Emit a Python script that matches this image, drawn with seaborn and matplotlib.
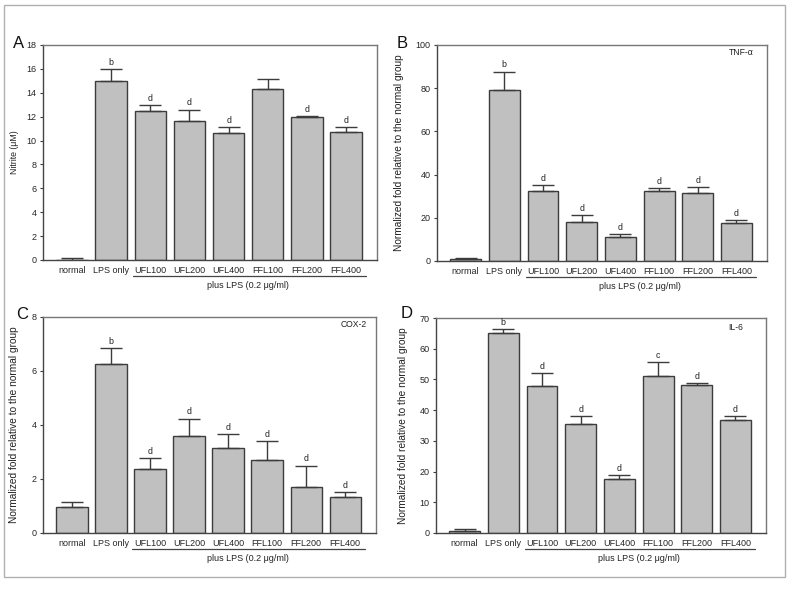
import matplotlib
matplotlib.use("Agg")
import matplotlib.pyplot as plt
import matplotlib.transforms as mtransforms
from matplotlib.patches import Rectangle
import seaborn as sns
import pandas as pd
import numpy as np

categories = ["normal", "LPS only", "UFL100", "UFL200", "UFL400", "FFL100", "FFL200", "FFL400"]

nitrite_mean = [0.03, 14.95, 12.5, 11.6, 10.6, 14.3, 12.0, 10.75]
nitrite_err = [0.15, 1.0, 0.5, 1.0, 0.55, 0.85, 0.05, 0.4]
nitrite_sig = ["", "b", "d", "d", "d", "", "d", "d"]

tnf_mean = [1.0, 79.0, 32.6, 18.0, 11.3, 32.3, 31.3, 17.7]
tnf_err = [0.3, 8.7, 2.5, 3.2, 1.0, 1.5, 2.8, 1.3]
tnf_sig = ["", "b", "d", "d", "d", "d", "d", "d"]

cox_mean = [0.98, 6.26, 2.38, 3.59, 3.13, 2.70, 1.72, 1.32]
cox_err = [0.15, 0.6, 0.4, 0.65, 0.53, 0.72, 0.78, 0.2]
cox_sig = ["", "b", "d", "d", "d", "d", "d", "d"]

il6_mean = [0.8, 65.0, 48.0, 35.4, 17.6, 51.1, 48.2, 36.8]
il6_err = [0.6, 1.3, 4.2, 2.8, 1.4, 4.7, 0.7, 1.4]
il6_sig = ["", "b", "d", "d", "d", "c", "d", "d"]

panels = [
    dict(letter="A", mean=nitrite_mean, err=nitrite_err, sig=nitrite_sig,
         ylim=18, step=2, ylabel="Nitrite (\u03bcM)", note="", ylfs=6.3,
         rect=[43, 45, 377, 260], lab_x=-0.072, letter_xy=(13, 48), note_xy=None),
    dict(letter="B", mean=tnf_mean, err=tnf_err, sig=tnf_sig,
         ylim=100, step=20, ylabel="Normalized fold relative to the normal group",
         note="TNF-\u03b1", ylfs=7.3,
         rect=[437, 45, 767, 261], lab_x=-0.100, letter_xy=(397, 48), note_xy=(0.958, 0.963)),
    dict(letter="C", mean=cox_mean, err=cox_err, sig=cox_sig,
         ylim=8, step=2, ylabel="Normalized fold relative to the normal group",
         note="COX-2", ylfs=7.3,
         rect=[43, 317, 376, 533], lab_x=-0.072, letter_xy=(16, 319), note_xy=(0.973, 0.963)),
    dict(letter="D", mean=il6_mean, err=il6_err, sig=il6_sig,
         ylim=70, step=10, ylabel="Normalized fold relative to the normal group",
         note="IL-6", ylfs=7.3,
         rect=[436, 318, 766, 533], lab_x=-0.085, letter_xy=(401, 318), note_xy=(0.93, 0.958)),
]

sns.set_style("ticks")
plt.rcParams["font.family"] = ["Liberation Sans", "DejaVu Sans"]

W, H = 790, 590
fig = plt.figure(figsize=(W / 100, H / 100), dpi=100)

# light frame around the whole figure
fig.patches.append(Rectangle((4 / W, 1 - 577 / H), 781 / W, 572 / H, transform=fig.transFigure,
                             fill=False, edgecolor="#b0b0b0", linewidth=1.0))

bar_fc = "#c0c0c0"
edge = "#3c3c3c"

for p in panels:
    l, t, r, b = p["rect"]
    ax = fig.add_axes([l / W, 1 - b / H, (r - l) / W, (b - t) / H])
    df = pd.DataFrame({"group": categories, "value": p["mean"]})
    sns.barplot(data=df, x="group", y="value", order=categories, color=bar_fc,
                saturation=1, width=0.8, errorbar=None, edgecolor=edge, linewidth=1.0, ax=ax)
    for patch in ax.patches:
        patch.set_facecolor(bar_fc)
    xs = np.arange(len(categories))
    ax.errorbar(xs, p["mean"], yerr=[np.zeros(len(xs)), p["err"]], fmt="none",
                ecolor=edge, elinewidth=1.0, capsize=8.2, capthick=1.0)
    for xi, m, e, s in zip(xs, p["mean"], p["err"], p["sig"]):
        if s:
            ax.annotate(s, (xi, m + e), xytext=(0, 1.5), textcoords="offset points",
                        ha="center", va="bottom", fontsize=6.3, color="#222222")
    ax.set_xlim(-0.74, 7.79)
    ax.set_ylim(0, p["ylim"])
    ax.set_yticks(np.arange(0, p["ylim"] + 0.001, p["step"]))
    ax.set_yticklabels([f"{v:g}" for v in np.arange(0, p["ylim"] + 0.001, p["step"])])
    ax.tick_params(axis="y", length=2.5, width=0.8, pad=2, labelsize=6.5, color=edge)
    ax.tick_params(axis="x", length=0, pad=4, labelsize=6.5)
    ax.set_xlabel("")
    ax.set_ylabel(p["ylabel"], fontsize=p["ylfs"], color="#222222")
    ax.yaxis.set_label_coords(p["lab_x"], 0.5)
    for side in ["left", "bottom"]:
        ax.spines[side].set_color("#444444")
        ax.spines[side].set_linewidth(1.0)
    for side in ["top", "right"]:
        ax.spines[side].set_visible(True)
        ax.spines[side].set_color("#777777")
        ax.spines[side].set_linewidth(1.0)
    # bracket for LPS-treated groups
    trans = mtransforms.blended_transform_factory(ax.transData, ax.transAxes)
    ax.plot([1.55, 7.5], [-0.074, -0.074], transform=trans, color="#444444",
            linewidth=0.9, clip_on=False)
    ax.text(4.5, -0.098, "plus LPS (0.2 \u03bcg/ml)", transform=trans, ha="center",
            va="top", fontsize=6.5, color="#222222")
    if p["note"]:
        ax.text(p["note_xy"][0], p["note_xy"][1], p["note"], transform=ax.transAxes,
                ha="right", va="center", fontsize=6.2, color="#222222")
    lx, ly = p["letter_xy"]
    fig.text(lx / W, 1 - ly / H, p["letter"], fontsize=12, ha="left", va="baseline",
             color="#111111")

fig.savefig("out.png", dpi=100)
